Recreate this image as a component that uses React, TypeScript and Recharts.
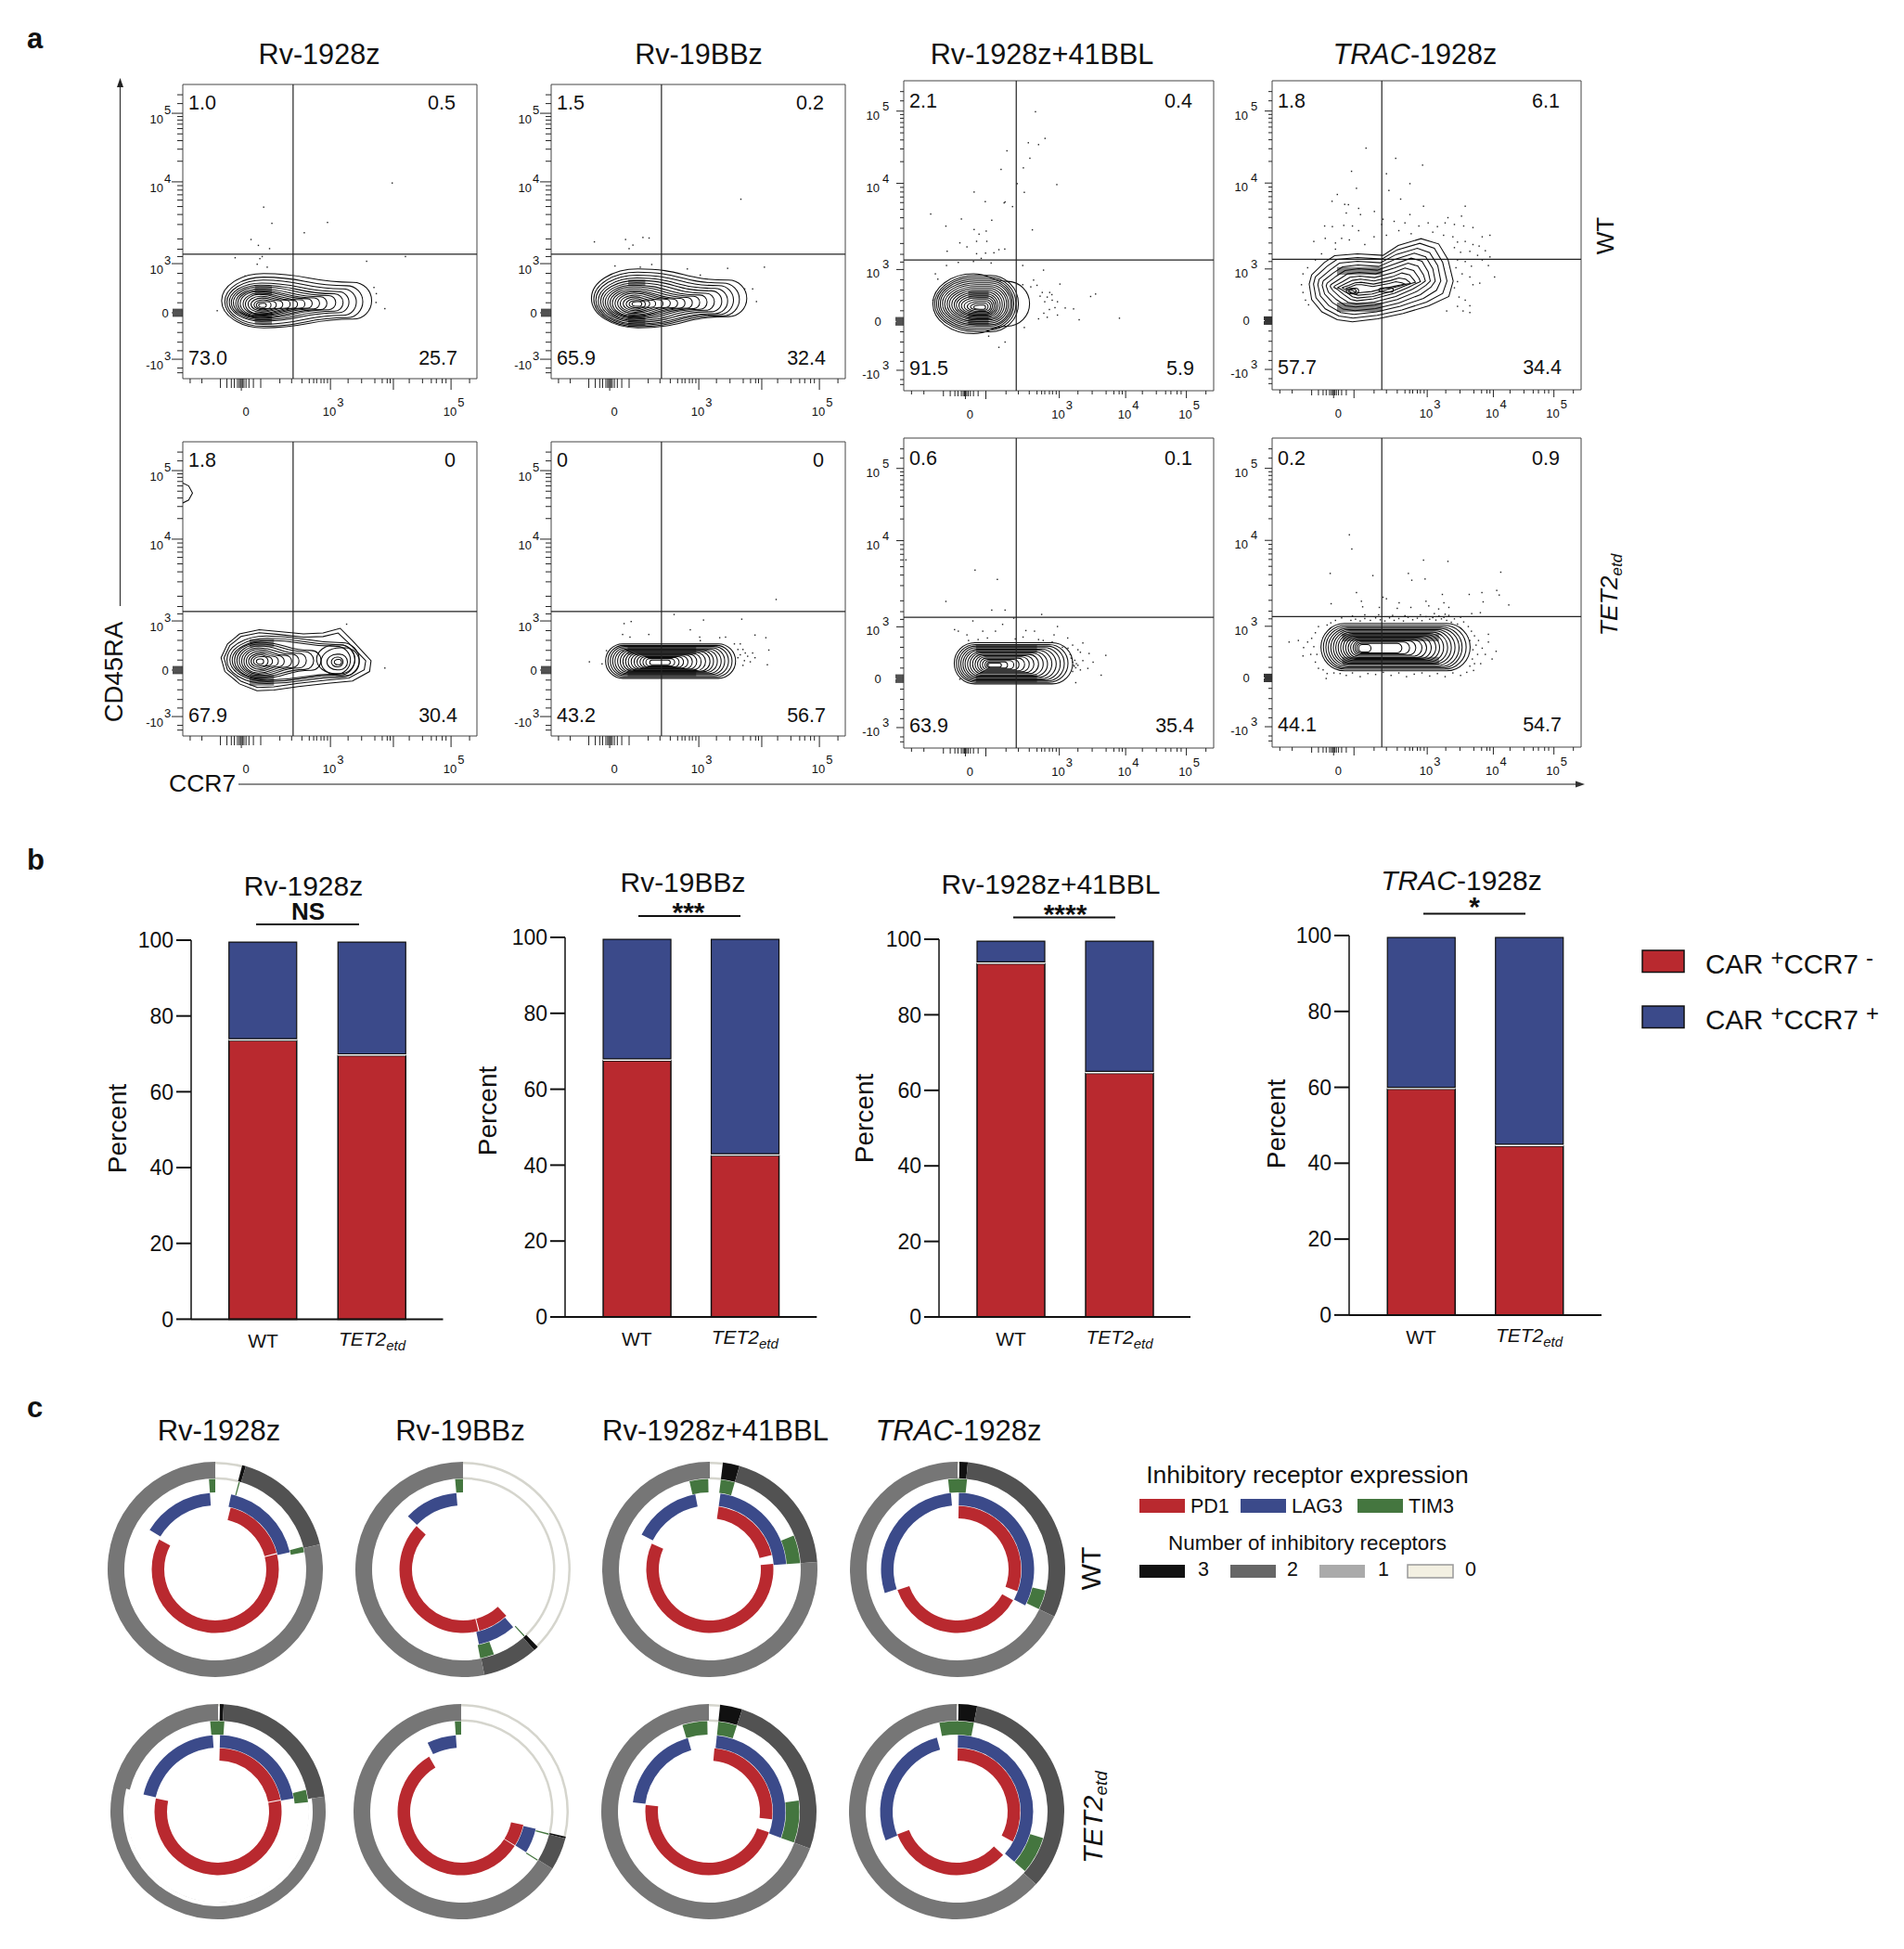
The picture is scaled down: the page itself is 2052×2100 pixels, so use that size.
import React from "react";
import {
  ScatterChart, Scatter, XAxis, YAxis, ReferenceArea, ReferenceLine,
  BarChart, Bar, PieChart, Pie,
} from "recharts";

const FONT = '"Liberation Sans", Arial, sans-serif';
const RED = "#b9292f";
const BLUE = "#3b4a8a";
const GREEN = "#44763f";
const INK = "#111";

// ---------- panel a: flow plots, in display channels 0..1000 ----------
const yMajor = [66, 224, 391, 669, 902];
const yMinor = [20, 36, 95, 124, 157, 190, 258, 291, 325, 358, 415, 440, 475, 524, 558, 585, 607, 625, 641, 656, 739, 780, 809, 832, 850, 865, 879, 891, 935, 965];
const yCluster = [212, 215, 218, 221, 227, 230, 233, 236];
const yLabels: Record<number, [string, string]> = { 66: ["-10", "3"], 224: ["0", ""], 391: ["10", "3"], 669: ["10", "4"], 902: ["10", "5"] };

const xMajor = [502, 716, 912];
const xMinor = [25, 65, 330, 370, 405, 430, 445, 455, 470, 480, 492, 562, 608, 653, 678, 695, 705, 770, 815, 845, 862, 882, 895, 975];
const xCluster = [128, 150, 165, 175, 186, 192, 196, 199, 203, 208, 215, 225, 240, 265];
const xLabels: Record<number, [string, string]> = { 199: ["0", ""], 502: ["10", "3"], 716: ["10", "4"], 912: ["10", "5"] };

type Row = number[];

const p1Rows: Row[] = [
  [132, 642, 173, 357, .28, .68], [143, 612, 178, 345, .28, .65], [150, 590, 185, 335, .28, .6], [158, 565, 195, 325, .27, .55],
  [165, 545, 200, 318, .26, .5], [172, 520, 205, 312, .26, .45], [180, 490, 208, 305, .25, .45], [187, 465, 212, 300, .24, .42],
  [195, 440, 215, 296, .24, .4], [205, 415, 218, 290, .25, .4], [213, 390, 220, 286, .27, .4], [222, 365, 226, 280, .3, .5],
  [232, 340, 230, 274, .35, .6], [242, 318, 234, 268, .4, .7], [250, 300, 238, 262, .4, 1], [258, 284, 242, 256, .5, 1],
];
const p2Rows: Row[] = [
  [137, 665, 173, 373, .3, .62], [145, 640, 177, 362, .3, .6], [152, 620, 182, 352, .3, .58], [160, 600, 186, 342, .3, .55],
  [168, 580, 192, 334, .3, .5], [176, 555, 197, 326, .3, .45], [184, 530, 202, 318, .28, .42], [192, 505, 206, 312, .28, .4],
  [200, 480, 210, 306, .28, .38], [208, 455, 213, 300, .28, .38], [217, 430, 217, 295, .3, .38], [226, 405, 222, 290, .32, .4],
  [235, 380, 226, 284, .35, .45], [245, 355, 231, 278, .38, .5], [255, 335, 236, 272, .4, .6], [265, 320, 241, 266, .45, .8], [275, 308, 246, 262, .5, 1],
];
const p3Rows: Row[] = [
  [94, 406, 184, 377, .42, .75], [100, 370, 190, 372, .5, 1], [106, 362, 196, 366, .5, 1], [112, 355, 202, 360, .5, 1],
  [118, 350, 208, 354, .5, 1], [125, 345, 213, 348, .5, 1], [132, 338, 218, 342, .5, 1], [140, 332, 223, 336, .5, 1],
  [147, 325, 228, 330, .5, 1], [155, 318, 232, 324, .5, 1], [163, 311, 236, 318, .5, 1], [170, 304, 240, 312, .5, 1],
  [178, 298, 244, 306, .5, 1], [186, 292, 248, 300, .5, 1], [195, 286, 252, 294, .5, 1], [205, 280, 256, 288, .5, 1],
  [215, 272, 260, 282, .5, 1], [226, 264, 263, 276, .5, 1],
];
const p4Rows: Row[] = [[240, 280, 310, 329, .5, 1], [248, 272, 313, 326, .5, 1], [345, 392, 316, 330, .5, 1]];
const p5Rows: Row[] = [
  [490, 560, 225, 278, .5, 1], [505, 545, 235, 268, .5, 1], [515, 540, 242, 260, .5, 1], [470, 600, 205, 300, .5, 1], [455, 585, 212, 310, .5, 1],
  [150, 600, 178, 340, .3, .72], [160, 585, 185, 332, .3, .7], [168, 570, 190, 325, .3, .7], [176, 470, 196, 318, .3, .55],
  [184, 445, 201, 312, .3, .55], [192, 420, 206, 306, .3, .5], [200, 395, 210, 300, .3, .5], [208, 370, 214, 294, .3, .5],
  [216, 345, 220, 288, .35, .55], [224, 325, 226, 282, .4, .6], [232, 305, 232, 276, .45, .7], [240, 290, 238, 270, .5, 1], [250, 275, 244, 262, .5, 1],
];
const p6Rows: Row[] = [
  [185, 627, 196, 313, 0, 1], [193, 615, 201, 308, 0, 1], [201, 603, 205, 304, 0, 1], [209, 590, 209, 300, 0, 1],
  [217, 578, 212, 296, 0, 1], [226, 565, 215, 293, 0, 1], [235, 552, 218, 290, 0, 1], [244, 540, 220, 287, 0, 1],
  [253, 525, 222, 284, 0, 1], [262, 510, 224, 281, 0, 1], [272, 495, 227, 278, 0, 1], [282, 480, 229, 275, 0, 1],
  [292, 465, 231, 272, 0, 1], [302, 450, 233, 270, 0, 1], [312, 435, 235, 267, 0, 1], [322, 420, 238, 263, 0, 1], [335, 405, 242, 258, 0, 1],
];
const p7Rows: Row[] = [
  [163, 545, 207, 340, 0, 1], [170, 530, 212, 334, 0, 1], [177, 518, 216, 329, 0, 1], [184, 505, 220, 324, 0, 1],
  [191, 492, 224, 319, 0, 1], [198, 478, 228, 315, 0, 1], [206, 464, 232, 310, 0, 1], [214, 450, 236, 306, 0, 1],
  [222, 435, 240, 302, 0, 1], [230, 420, 243, 298, 0, 1], [238, 405, 246, 294, 0, 1], [246, 390, 249, 290, 0, 1],
  [254, 372, 252, 286, 0, 1], [262, 355, 255, 282, 0, 1], [268, 335, 258, 278, 0, 1], [272, 315, 261, 274, 0, 1],
];
const p8Rows: Row[] = [
  [158, 641, 247, 400, 0, 1], [166, 628, 252, 394, 0, 1], [174, 615, 256, 389, 0, 1], [182, 605, 260, 384, 0, 1],
  [190, 592, 264, 380, 0, 1], [198, 580, 268, 376, 0, 1], [206, 568, 272, 372, 0, 1], [214, 555, 276, 368, 0, 1],
  [222, 542, 280, 364, 0, 1], [230, 530, 284, 360, 0, 1], [238, 515, 287, 356, 0, 1], [246, 500, 290, 352, 0, 1],
  [254, 485, 294, 348, 0, 1], [262, 465, 298, 344, 0, 1], [268, 445, 302, 340, 0, 1], [274, 420, 305, 336, 0, 1], [280, 320, 308, 332, 0, 1],
];

const p4Outlines: number[][][] = [
  [[128, 372], [169, 412], [202, 434], [276, 440], [359, 435], [408, 467], [482, 489], [539, 472], [569, 422], [586, 352], [572, 302], [507, 272], [424, 247], [342, 230], [260, 220], [211, 227], [161, 252], [128, 292], [120, 342], [128, 372]],
  [[140, 365], [178, 400], [210, 422], [276, 428], [355, 423], [405, 453], [478, 474], [525, 458], [552, 412], [566, 352], [552, 312], [500, 284], [420, 258], [340, 241], [262, 232], [216, 239], [172, 262], [142, 298], [134, 342], [140, 365]],
  [[152, 358], [188, 388], [218, 410], [276, 416], [350, 411], [402, 438], [470, 458], [510, 444], [536, 402], [546, 352], [532, 322], [490, 296], [415, 270], [338, 252], [265, 244], [222, 250], [184, 272], [156, 304], [148, 340], [152, 358]],
  [[165, 352], [198, 378], [228, 398], [278, 404], [345, 399], [400, 423], [460, 442], [497, 430], [520, 392], [528, 352], [514, 332], [480, 308], [410, 281], [335, 263], [268, 256], [230, 261], [196, 282], [170, 310], [162, 338], [165, 352]],
  [[178, 345], [208, 368], [236, 386], [280, 392], [340, 387], [398, 408], [450, 426], [485, 416], [505, 382], [512, 352], [498, 338], [468, 318], [405, 292], [332, 274], [270, 268], [238, 272], [208, 292], [182, 316], [175, 336], [178, 345]],
  [[190, 340], [218, 358], [244, 375], [282, 380], [335, 375], [396, 394], [440, 410], [472, 400], [490, 372], [496, 352], [482, 342], [455, 326], [400, 302], [330, 284], [272, 278], [246, 283], [220, 300], [196, 322], [188, 334], [190, 340]],
  [[202, 336], [228, 350], [252, 364], [284, 368], [332, 363], [394, 380], [430, 394], [458, 386], [475, 362], [480, 350], [466, 344], [442, 332], [396, 312], [328, 294], [274, 288], [254, 293], [232, 308], [210, 326], [200, 332], [202, 336]],
  [[214, 332], [238, 344], [260, 354], [286, 358], [330, 352], [390, 366], [420, 378], [445, 372], [460, 354], [464, 348], [450, 344], [430, 336], [390, 320], [326, 302], [276, 297], [260, 301], [242, 314], [222, 326], [212, 330], [214, 332]],
  [[226, 330], [248, 338], [268, 346], [288, 348], [328, 342], [385, 354], [410, 362], [432, 358], [445, 348], [448, 344], [435, 342], [415, 336], [385, 328], [324, 310], [278, 306], [266, 309], [252, 318], [234, 326], [226, 330]],
  [[238, 328], [256, 334], [272, 340], [290, 340], [326, 334], [378, 344], [400, 350], [420, 346], [430, 342], [420, 340], [400, 336], [372, 330], [322, 318], [280, 314], [270, 316], [258, 322], [238, 328]],
];
const p5Outlines: number[][][] = [
  [[130, 266], [152, 313], [193, 347], [260, 361], [327, 355], [410, 347], [477, 350], [535, 366], [577, 324], [640, 256], [635, 219], [577, 187], [493, 179], [393, 168], [310, 156], [252, 154], [193, 177], [143, 219], [130, 266]],
  [[140, 266], [160, 308], [198, 338], [260, 351], [327, 345], [410, 336], [477, 338], [528, 350], [565, 315], [622, 256], [617, 225], [565, 197], [490, 190], [393, 179], [310, 167], [254, 165], [198, 186], [152, 224], [140, 266]],
  [[0, 860], [20, 850], [33, 826], [20, 802], [0, 792]],
];

// stepped dark zones where many contour lines pile up
const p1Bands = [[245, 303, 284, 315], [245, 303, 184, 226]];
const p2Bands = [[262, 320, 315, 336], [262, 320, 179, 220]];
const p3Bands = [[208, 274, 297, 322], [208, 274, 212, 252]];
const p4Bands = [[210, 358, 372, 397], [210, 358, 252, 282]];
const p5Bands = [[227, 310, 303, 329], [227, 310, 171, 208]];
const p6Bands = [[260, 493, 276, 303], [260, 493, 203, 229]];
const p7Bands = [[233, 430, 307, 332], [233, 430, 212, 237]];
const p8Bands = [[227, 540, 342, 367], [227, 540, 267, 292]];

const p1Dots = [[712, 665], [275, 583], [303, 528], [492, 531], [413, 496], [232, 473], [257, 453], [295, 442], [178, 411], [270, 415], [262, 408], [253, 389], [287, 379], [625, 399], [757, 415], [212, 349], [650, 310], [658, 289], [657, 259], [687, 238], [117, 231]];
const p2Dots = [[645, 610], [147, 465], [253, 473], [278, 454], [265, 442], [312, 480], [333, 478], [217, 383], [303, 379], [342, 388], [463, 373], [600, 375], [725, 379], [507, 352], [658, 305], [685, 305], [698, 262]];
const p3Dots = [[425, 900], [402, 800], [435, 794], [456, 814], [333, 774], [407, 750], [386, 719], [314, 714], [366, 668], [494, 665], [227, 641], [389, 640], [263, 610], [327, 609], [324, 606], [351, 594], [87, 570], [186, 554], [284, 550], [136, 531], [227, 520], [266, 515], [415, 519], [243, 505], [181, 477], [235, 482], [268, 482], [140, 450], [204, 464], [235, 442], [264, 444], [291, 445], [326, 457], [307, 455], [176, 414], [250, 427], [225, 417], [282, 412], [138, 404], [384, 404], [451, 389], [102, 377], [110, 360], [384, 342], [419, 357], [504, 344], [447, 317], [471, 317], [463, 302], [479, 292], [455, 287], [496, 287], [521, 267], [548, 264], [603, 304], [619, 312], [496, 244], [463, 237], [566, 229], [696, 234], [389, 204], [274, 176], [327, 157], [307, 140], [94, 292], [430, 340], [440, 305], [410, 335], [478, 310], [488, 268], [470, 262], [452, 250], [435, 232]];
const p4Dots = [[304, 782], [257, 707], [400, 749], [487, 727], [370, 699], [273, 652], [378, 645], [446, 667], [211, 632], [194, 610], [235, 600], [247, 599], [416, 617], [280, 587], [286, 567], [331, 577], [240, 572], [490, 594], [625, 594], [359, 552], [446, 567], [569, 557], [613, 562], [170, 530], [195, 528], [232, 532], [260, 530], [280, 515], [355, 535], [395, 545], [430, 540], [475, 530], [505, 540], [535, 528], [560, 540], [590, 535], [620, 530], [650, 525], [680, 495], [705, 500], [172, 490], [135, 480], [205, 475], [225, 490], [250, 485], [300, 470], [330, 495], [370, 500], [410, 515], [450, 505], [520, 510], [555, 500], [585, 495], [600, 478], [625, 480], [650, 470], [670, 465], [690, 450], [705, 430], [590, 460], [610, 445], [640, 448], [665, 435], [600, 420], [625, 415], [645, 400], [680, 420], [700, 402], [595, 395], [615, 375], [600, 350], [590, 330], [640, 365], [650, 340], [672, 345], [720, 365], [605, 300], [625, 290], [600, 270], [640, 272], [618, 255], [640, 250], [95, 340], [100, 315], [108, 290], [118, 275], [100, 375], [115, 395], [140, 420], [160, 440], [205, 455], [565, 255]];
const p5Dots = [[557, 380], [687, 231]];
const p6Dots = [[765, 464], [418, 413], [518, 394], [648, 397], [248, 382], [272, 389], [473, 361], [243, 345], [332, 345], [268, 336], [505, 336], [507, 324], [573, 334], [593, 336], [693, 343], [730, 334], [623, 313], [643, 313], [652, 294], [635, 294], [660, 282], [685, 282], [740, 292], [635, 266], [657, 256], [693, 266], [735, 242], [652, 240], [130, 252], [173, 245], [188, 290], [668, 271], [643, 276], [677, 252]];
const p7Dots = [[7, 607], [230, 574], [302, 544], [136, 473], [284, 445], [327, 445], [445, 431], [355, 419], [223, 410], [319, 399], [496, 392], [164, 382], [176, 377], [204, 365], [255, 377], [296, 377], [394, 379], [422, 377], [209, 347], [450, 347], [479, 342], [529, 355], [578, 339], [545, 332], [512, 325], [562, 317], [537, 302], [570, 309], [598, 305], [652, 299], [578, 282], [611, 277], [562, 267], [550, 264], [555, 259], [570, 252], [594, 257], [637, 235], [555, 211], [181, 222], [545, 277], [545, 247], [557, 272], [548, 267], [552, 283], [540, 290], [530, 322], [485, 365], [435, 350], [385, 358], [360, 352], [240, 350], [270, 355]];
const p8Dots = [[250, 687], [258, 641], [490, 605], [569, 601], [188, 562], [441, 562], [740, 566], [326, 555], [452, 540], [495, 544], [273, 500], [727, 507], [735, 492], [679, 500], [638, 494], [551, 494], [359, 485], [370, 480], [191, 464], [289, 472], [411, 467], [498, 472], [556, 467], [683, 470], [766, 460], [293, 454], [347, 452], [405, 449], [449, 452], [507, 457], [539, 447], [572, 452], [646, 432], [674, 435],
  [255, 410], [270, 414], [285, 408], [300, 416], [318, 410], [335, 418], [350, 412], [365, 408], [380, 418], [395, 410], [410, 416], [425, 408], [440, 420], [455, 412], [470, 417], [485, 409], [498, 422], [510, 414], [520, 419], [530, 411], [540, 424], [548, 415], [556, 420], [565, 410], [572, 426], [580, 404], [590, 415], [600, 398], [610, 420], [620, 405], [560, 430], [525, 432], [480, 428], [430, 425], [390, 426], [345, 428], [300, 428], [260, 424], [225, 418], [205, 410], [190, 402], [178, 395],
  [635, 390], [645, 375], [655, 360], [640, 345], [660, 330], [650, 315], [665, 300], [648, 285], [655, 270], [668, 345], [680, 320], [690, 300], [700, 340], [712, 285], [725, 310], [675, 270], [640, 262], [652, 248], [700, 365],
  [150, 390], [140, 370], [128, 352], [115, 340], [135, 325], [145, 300], [125, 300], [102, 322], [55, 340], [85, 345], [100, 295], [140, 275], [150, 255], [165, 250], [178, 238], [175, 222],
  [200, 240], [220, 238], [240, 232], [260, 240], [285, 228], [310, 238], [335, 235], [360, 242], [385, 232], [410, 240], [435, 228], [460, 236], [485, 240], [510, 230], [535, 238], [560, 228], [585, 240], [610, 232], [630, 242]];

type PanelCfg = {
  left: number; top: number; size: number; rows: Row[]; outlines?: number[][][]; dots: number[][]; bands: number[][];
  gx: number; gy: number; four: boolean; quad: string[];
};

const panels: PanelCfg[] = [
  { left: 197, top: 91, size: 317, rows: p1Rows, bands: p1Bands, dots: p1Dots, gx: 375, gy: 423, four: false, quad: ["1.0", "0.5", "73.0", "25.7"] },
  { left: 594, top: 91, size: 317, rows: p2Rows, bands: p2Bands, dots: p2Dots, gx: 375, gy: 423, four: false, quad: ["1.5", "0.2", "65.9", "32.4"] },
  { left: 974, top: 87, size: 334, rows: p3Rows, bands: p3Bands, dots: p3Dots, gx: 363, gy: 422, four: true, quad: ["2.1", "0.4", "91.5", "5.9"] },
  { left: 1371, top: 87, size: 333, rows: p4Rows, bands: p4Bands, outlines: p4Outlines, dots: p4Dots, gx: 355, gy: 422, four: true, quad: ["1.8", "6.1", "57.7", "34.4"] },
  { left: 197, top: 476, size: 317, rows: p5Rows, bands: p5Bands, outlines: p5Outlines, dots: p5Dots, gx: 375, gy: 423, four: false, quad: ["1.8", "0", "67.9", "30.4"] },
  { left: 594, top: 476, size: 317, rows: p6Rows, bands: p6Bands, dots: p6Dots, gx: 375, gy: 423, four: false, quad: ["0", "0", "43.2", "56.7"] },
  { left: 974, top: 472, size: 334, rows: p7Rows, bands: p7Bands, dots: p7Dots, gx: 363, gy: 422, four: true, quad: ["0.6", "0.1", "63.9", "35.4"] },
  { left: 1371, top: 472, size: 333, rows: p8Rows, bands: p8Bands, dots: p8Dots, gx: 355, gy: 422, four: true, quad: ["0.2", "0.9", "44.1", "54.7"] },
];

function tearPath(x: number, y: number, w: number, h: number, n: number, t: number) {
  const right = x + w, top = y, bot = y + h, cy = y + h / 2;
  const lrx = n > 0 ? n * w : Math.min(h / 2, w / 2);
  const mx = x + lrx, tr = (t * h) / 2, sx = right - tr;
  let d = `M${x} ${cy} A${lrx} ${h / 2} 0 0 1 ${mx} ${top} `;
  if (sx <= mx) {
    const rx = Math.max(right - mx, 0.1);
    d += `A${rx} ${h / 2} 0 0 1 ${right} ${cy} A${rx} ${h / 2} 0 0 1 ${mx} ${bot} `;
  } else {
    const c = mx + (sx - mx) * 0.5;
    d += `C${c} ${top} ${c} ${cy - tr} ${sx} ${cy - tr} A${tr} ${tr} 0 0 1 ${right} ${cy} A${tr} ${tr} 0 0 1 ${sx} ${cy + tr} C${c} ${cy + tr} ${c} ${bot} ${mx} ${bot} `;
  }
  return d + `A${lrx} ${h / 2} 0 0 1 ${x} ${cy} Z`;
}

function FlowPanel({ cfg }: { cfg: PanelCfg }) {
  const L = 60, B = 60, T = 2, R = 2;
  const big = cfg.four;
  const xTick = (p: any) => {
    const v = p.payload.value;
    const major = xMajor.includes(v), cl = xCluster.includes(v);
    const len = big ? (major ? 8 : cl ? (v === 199 || v === 265 ? 9 : 6) : 4) : (major ? 12 : cl ? (v === 199 ? 13 : 10) : 5);
    const lab = xLabels[v];
    const show = lab && (big || v !== 716);
    const off = v === 199 ? 5 : 3;
    return (
      <g>
        <line x1={p.x} x2={p.x} y1={p.y} y2={p.y + len} stroke="#222" strokeWidth={1} />
        {show && (
          <text x={p.x + off} y={p.y + (big ? 30 : 40)} textAnchor="middle" fontFamily={FONT} fontSize={13} fill={INK}>
            {lab[0]}
            {lab[1] && <tspan dx={1} dy={-10} fontSize={13}>{lab[1]}</tspan>}
          </text>
        )}
      </g>
    );
  };
  const yTick = (p: any) => {
    const v = p.payload.value;
    const major = yMajor.includes(v), cl = yCluster.includes(v);
    const len = big ? (major ? 8 : cl ? 9 : 4) : (major ? 12 : cl ? 11 : 6);
    const lab = yLabels[v];
    const gap = big ? 26 : 21;
    return (
      <g>
        <line x1={p.x - len} x2={p.x} y1={p.y} y2={p.y} stroke="#222" strokeWidth={1} />
        {lab && (v === 224 ? (
          <text x={p.x - (big ? 28 : 19)} y={p.y + 5} textAnchor="middle" fontFamily={FONT} fontSize={13} fill={INK}>0</text>
        ) : (
          <g>
            <text x={p.x - gap} y={p.y + (big ? 9 : 11)} textAnchor="end" fontFamily={FONT} fontSize={13} fill={INK}>{lab[0]}</text>
            <text x={p.x - gap + (big ? 3 : 1)} y={p.y + (big ? -1 : 1)} fontFamily={FONT} fontSize={13} fill={INK}>{lab[1]}</text>
          </g>
        ))}
      </g>
    );
  };
  return (
    <div style={{ position: "absolute", left: cfg.left - L, top: cfg.top - T }}>
      <ScatterChart width={L + cfg.size + R} height={T + cfg.size + B} margin={{ top: T, right: R, left: 0, bottom: 0 }}>
        <XAxis type="number" dataKey="x" domain={[0, 1000]} height={B} interval={0} allowDataOverflow
          ticks={[...xCluster, ...xMinor, ...xMajor].sort((a, b) => a - b)} tick={xTick} tickLine={false} axisLine={false} tickSize={0} tickMargin={0} />
        <YAxis type="number" dataKey="y" domain={[0, 1000]} width={L} interval={0} allowDataOverflow
          ticks={[...yCluster, ...yMinor, ...yMajor].sort((a, b) => a - b)} tick={yTick} tickLine={false} axisLine={false} tickSize={0} tickMargin={0} />
        {cfg.bands.map((b, i) => (
          <ReferenceArea key={"b" + i} x1={b[0]} x2={b[1]} y1={b[2]} y2={b[3]} fill="#222" fillOpacity={0.55} stroke="none" ifOverflow="visible" />
        ))}
        {cfg.rows.map((r, i) => (
          <ReferenceArea key={i} x1={r[0]} x2={r[1]} y1={r[2]} y2={r[3]} ifOverflow="visible"
            shape={(p: any) => <path d={tearPath(p.x, p.y, p.width, p.height, r[4], r[5])} fill="none" stroke="#0c0c0c" strokeWidth={1.05} />} />
        ))}
        {(cfg.outlines || []).map((o, i) => (
          <Scatter key={"o" + i} data={o.map(([x, y]) => ({ x, y }))} line={{ stroke: "#0c0c0c", strokeWidth: 1.05 }} shape={() => <g />} isAnimationActive={false} />
        ))}
        <Scatter data={cfg.dots.map(([x, y]) => ({ x, y }))} isAnimationActive={false}
          shape={(p: any) => <rect x={p.cx - 0.7} y={p.cy - 0.7} width={1.4} height={1.4} fill="#222" />} />
        <ReferenceLine x={cfg.gx} stroke="#222" strokeWidth={1.2} />
        <ReferenceLine y={cfg.gy} stroke="#222" strokeWidth={1.2} />
        <ReferenceArea x1={0} x2={1000} y1={0} y2={1000} fill="none" stroke="#444" strokeWidth={1} ifOverflow="visible" />
      </ScatterChart>
    </div>
  );
}

// ---------- panel b: stacked bars ----------
const barGroups = ["WT", "TET2"];
const redByPlot = [[73.5, 69.5], [67.5, 42.5], [93.5, 64.5], [59.5, 44.5]];
const blueByPlot = [[25.5, 29.5], [31.5, 56.5], [5.5, 34.5], [39.5, 54.5]];
const whiteSep = 0.5;

const barLayouts = [
  { axisX: 205.5, y100: 1013, y0: 1421.4, endX: 477, c1: 283, c2: 400.5 },
  { axisX: 608.7, y100: 1010, y0: 1419, endX: 880, c1: 686, c2: 802.5 },
  { axisX: 1012, y100: 1012, y0: 1419, endX: 1283, c1: 1089.5, c2: 1206.5 },
  { axisX: 1454, y100: 1007.5, y0: 1416.4, endX: 1726, c1: 1531.5, c2: 1648 },
];

function StackPlot({ idx }: { idx: number }) {
  const l = barLayouts[idx];
  const data = barGroups.map((g, i) => ({ g, red: redByPlot[idx][i], sep: whiteSep, blue: blueByPlot[idx][i] }));
  const yW = 76, xH = 50, T = 16;
  const band = l.c2 - l.c1;
  const padL = l.c1 - l.axisX - band / 2, padR = l.endX - l.c2 - band / 2;
  const xTick = (p: any) =>
    p.payload.value === "WT" ? (
      <text x={p.x} y={p.y + 31} textAnchor="middle" fontFamily={FONT} fontSize={21} fill={INK}>WT</text>
    ) : (
      <text x={p.x} y={p.y + 29} textAnchor="middle" fontFamily={FONT} fontSize={21} fontStyle="italic" fill={INK}>
        TET2<tspan fontSize={15} dy={5}>etd</tspan>
      </text>
    );
  return (
    <div style={{ position: "absolute", left: l.axisX - yW, top: l.y100 - T }}>
      <BarChart width={yW + (l.endX - l.axisX) + 2} height={T + (l.y0 - l.y100) + xH} data={data} barSize={73} margin={{ top: T, right: 2, left: 0, bottom: 0 }} stackOffset="none">
        <XAxis dataKey="g" height={xH} interval={0} padding={{ left: padL, right: padR }} tick={xTick} axisLine={{ stroke: INK, strokeWidth: 2 }} tickLine={false} tickSize={0} tickMargin={0} />
        <YAxis type="number" domain={[0, 100]} ticks={[0, 20, 40, 60, 80, 100]} width={yW} interval={0} axisLine={{ stroke: INK, strokeWidth: 1.5 }} tickLine={{ stroke: INK, strokeWidth: 2 }} tickSize={16} tickMargin={3} tick={{ fontFamily: FONT, fontSize: 23, fill: INK }} />
        <Bar dataKey="red" stackId="s" fill={RED} stroke={INK} strokeWidth={1.5} isAnimationActive={false} />
        <Bar dataKey="sep" stackId="s" fill="#fff" stroke="none" isAnimationActive={false} />
        <Bar dataKey="blue" stackId="s" fill={BLUE} stroke={INK} strokeWidth={1.2} isAnimationActive={false} />
      </BarChart>
    </div>
  );
}

// ---------- panel c: nested rings, degrees clockwise from 12 o'clock ----------
const C_GRAY = "#767676", C_DARK = "#525252", C_BLACK = "#111", C_CREAM = "#d5d5cd", NONE = "transparent";

const ringOuter = [[14.5, 2, 60, 283.5], [136, 2.5, 30, 191.5], [7, 9, 70, 274], [1, 4.5, 110.5, 244], [1, 2, 79, 278], [103.5, 1, 17.5, 238], [6, 12, 92, 250], [1, 10, 121.5, 227.5]];
const ringGreen = [[15, .8, 59.7, 3.5, 277, 4], [137, .8, 22.2, 9, 186, 5], [7, 9, 52, 18, 261, 12, 1], [0, 6, 97.5, 12.5, 238, 6], [0, 4, 72, 8, 271, 5], [104, .8, 17.2, .8, 233.2, 4], [6, 12, 65, 27, 233, 16, 1], [0, 11, 96, 24, 218, 11]];
const ringBlue = [[12, 65, 224, 55, 4], [139, 29, 146, 41, 5], [8, 78, 211, 52, 11], [1, 117, 134, 103, 5], [1.5, 78.5, 203, 73, 4], [103, 19, 212, 22, 4], [6, 104, 167, 67, 16], [1, 130, 117, 97, 15]];
const ringRed = [[14, 61, 1, 222, 62], [137, 28, 1, 147, 47], [8, 69, 8, 209, 66], [1, 109, 9, 132, 109], [1.5, 77.5, 1, 202, 78], [102, 20, .7, 207, 30.3], [5, 92, 12, 167, 84], [1, 117, 15, 116, 111]];
const ringCenters = [[231.7, 1690.7], [499, 1690.7], [764.5, 1690.7], [1031.7, 1690.7], [235, 1952.3], [497, 1952.3], [763.8, 1952.3], [1030.7, 1952.3]];
const thinGrayArc = [82, 202, 76];

function altRing(vals: number[], color: string) {
  return vals.map((v, i) => ({ v, fill: i % 2 === 1 ? color : NONE }));
}
function redRing(vals: number[]) {
  return vals.map((v, i) => ({ v, fill: i === 1 || i === 3 ? RED : NONE }));
}

function Ring({ data, ir, or }: { data: { v: number; fill: string }[]; ir: number; or: number }) {
  return <Pie data={data} dataKey="v" cx={125} cy={125} innerRadius={ir} outerRadius={or} startAngle={90} endAngle={-270} stroke="none" isAnimationActive={false} />;
}

function Donut({ i }: { i: number }) {
  const o = ringOuter[i];
  const outer = [
    { v: o[0], fill: NONE }, { v: o[1], fill: C_BLACK }, { v: o[2], fill: C_DARK }, { v: o[3], fill: C_GRAY },
  ];
  const creamOnly = [{ v: o[0], fill: C_CREAM }, { v: 360 - o[0], fill: NONE }];
  const [cx, cy] = ringCenters[i];
  return (
    <div style={{ position: "absolute", left: cx - 125, top: cy - 125 }}>
      <PieChart width={250} height={250} margin={{ top: 0, right: 0, bottom: 0, left: 0 }}>
        {Ring({ data: creamOnly, ir: 113.5, or: 116 })}
        {Ring({ data: creamOnly, ir: 97, or: 99.5 })}
        {Ring({ data: outer, ir: 98, or: 116 })}
        {i === 4 && Ring({ data: altRing(thinGrayArc, "#fff"), ir: 97.5, or: 102 })}
        {Ring({ data: altRing(ringGreen[i], GREEN), ir: 83, or: 97.5 })}
        {Ring({ data: altRing(ringBlue[i], BLUE), ir: 69, or: 82.5 })}
        {Ring({ data: redRing(ringRed[i]), ir: 55, or: 68.5 })}
      </PieChart>
    </div>
  );
}

// ---------- page text ----------
function T(props: any) {
  const { x, y, size = 20, anchor = "start", rot, bold, italic, fill = INK, children } = props;
  return (
    <text x={x} y={y} fontFamily={FONT} fontSize={size} textAnchor={anchor} fill={fill}
      fontWeight={bold ? "bold" : "normal"} fontStyle={italic ? "italic" : "normal"}
      transform={rot ? `rotate(${rot} ${x} ${y})` : undefined}>{children}</text>
  );
}

const rvTitles = ["Rv-1928z", "Rv-19BBz", "Rv-1928z+41BBL"];
const aTitleX = [344, 753, 1123, 1525];
const bTitles = [[327, 965], [736, 961], [1132.5, 963], [1575, 958.6]];
const cTitleX = [236, 496, 771, 1033];
const sig = [
  { s: "NS", x: 332, y: 991, x1: 276, x2: 387, ly: 996, size: 26 },
  { s: "***", x: 742, y: 993, x1: 688, x2: 798, ly: 987, size: 30 },
  { s: "****", x: 1148, y: 995, x1: 1092, x2: 1202, ly: 988.6, size: 30 },
  { s: "*", x: 1589, y: 987, x1: 1534, x2: 1644, ly: 984.6, size: 30 },
];
const percentPos = [[136, 1216], [535, 1197], [941, 1205], [1385, 1211]];
const legendTop = [{ label: "PD1", c: RED, x: 1228, tx: 1283 }, { label: "LAG3", c: BLUE, x: 1337, tx: 1392 }, { label: "TIM3", c: GREEN, x: 1463, tx: 1518 }];
const legendCount = [{ label: "3", c: "#111", x: 1228, tx: 1291 }, { label: "2", c: "#666", x: 1326, tx: 1387 }, { label: "1", c: "#aaa", x: 1422, tx: 1485 }, { label: "0", c: "#f3f0e2", x: 1517, tx: 1579 }];

function Title({ x, y, i, size = 30.6 }: any) {
  return i === 3 ? (
    <T x={x} y={y} size={size} anchor="middle"><tspan fontStyle="italic">TRAC</tspan>-1928z</T>
  ) : (
    <T x={x} y={y} size={size} anchor="middle">{rvTitles[i]}</T>
  );
}

function Overlay() {
  return (
    <svg width={2052} height={2100} style={{ position: "absolute", left: 0, top: 0, pointerEvents: "none" }}>
      <T x={29} y={52} size={31} bold>a</T>
      <T x={29} y={937} size={31} bold>b</T>
      <T x={29} y={1527} size={31} bold>c</T>

      {aTitleX.map((x, i) => <Title key={i} x={x} y={69} i={i} />)}
      <T x={1739} y={254} size={26} anchor="middle" rot={-90}>WT</T>
      <T x={1743} y={641} size={26.5} anchor="middle" rot={-90} italic>TET2<tspan fontSize={17} dy={5}>etd</tspan></T>
      <T x={132} y={724} size={27.5} anchor="middle" rot={-90}>CD45RA</T>
      <T x={182} y={853} size={26.5}>CCR7</T>
      <line x1={129.5} x2={129.5} y1={90} y2={653} stroke="#333" strokeWidth={1.2} />
      <polygon points="129.5,84 126,94 133,94" fill="#222" />
      <line x1={257} x2={1700} y1={845} y2={845} stroke="#666" strokeWidth={1.6} />
      <polygon points="1708,845 1698,841.5 1698,848.5" fill="#333" />

      {panels.map((p, i) => {
        const right = p.left + p.size, bot = p.top + p.size;
        const tb = p.top + (p.four ? 29 : 27), bb = bot - (p.four ? 17 : 15.5);
        return (
          <g key={i}>
            <T x={p.left + 6} y={tb} size={21.5}>{p.quad[0]}</T>
            <T x={right - 23} y={tb} size={21.5} anchor="end">{p.quad[1]}</T>
            <T x={p.left + 6} y={bb} size={21.5}>{p.quad[2]}</T>
            <T x={right - 21} y={bb} size={21.5} anchor="end">{p.quad[3]}</T>
          </g>
        );
      })}

      {bTitles.map(([x, y], i) => <Title key={i} x={x} y={y} i={i} size={30} />)}
      {sig.map((s, i) => (
        <g key={i}>
          <T x={s.x} y={s.y} size={s.size} anchor="middle" bold>{s.s}</T>
          <line x1={s.x1} x2={s.x2} y1={s.ly} y2={s.ly} stroke={INK} strokeWidth={2} />
        </g>
      ))}
      {percentPos.map(([x, y], i) => <T key={i} x={x} y={y} size={28} anchor="middle" rot={-90}>Percent</T>)}

      <rect x={1770} y={1024} width={45} height={23.5} fill={RED} stroke="#111" strokeWidth={1.5} />
      <rect x={1770} y={1084} width={45} height={23.5} fill={BLUE} stroke="#111" strokeWidth={1.5} />
      <T x={1838} y={1049} size={29.5}>CAR <tspan fontSize={24} dy={-9}>+</tspan><tspan dy={9}>CCR7 </tspan><tspan fontSize={24} dy={-9}>-</tspan></T>
      <T x={1838} y={1109} size={29.5}>CAR <tspan fontSize={24} dy={-9}>+</tspan><tspan dy={9}>CCR7 </tspan><tspan fontSize={24} dy={-9}>+</tspan></T>

      {cTitleX.map((x, i) => <Title key={i} x={x} y={1552} i={i} size={31} />)}
      <T x={1186} y={1690} size={30} anchor="middle" rot={-90}>WT</T>
      <T x={1188} y={1958} size={30} anchor="middle" rot={-90} italic>TET2<tspan fontSize={19} dy={5}>etd</tspan></T>

      <T x={1409} y={1598} size={26.5} anchor="middle">Inhibitory receptor expression</T>
      {legendTop.map((l) => (
        <g key={l.label}>
          <rect x={l.x} y={1615} width={49} height={15} fill={l.c} />
          <T x={l.tx} y={1630} size={21.5}>{l.label}</T>
        </g>
      ))}
      <T x={1409} y={1670} size={22.4} anchor="middle">Number of inhibitory receptors</T>
      {legendCount.map((l) => (
        <g key={l.label}>
          <rect x={l.x} y={1686} width={49} height={14} fill={l.c} stroke={l.label === "0" ? "#999" : "none"} strokeWidth={1.5} />
          <T x={l.tx} y={1698} size={21.5}>{l.label}</T>
        </g>
      ))}
    </svg>
  );
}

export default function App() {
  return (
    <div style={{ position: "absolute", left: 0, top: 0, width: 2052, height: 2100, background: "#fff", overflow: "hidden" }}>
      {panels.map((p, i) => <FlowPanel key={i} cfg={p} />)}
      {barLayouts.map((_, i) => <StackPlot key={i} idx={i} />)}
      {ringCenters.map((_, i) => <Donut key={i} i={i} />)}
      <Overlay />
    </div>
  );
}
